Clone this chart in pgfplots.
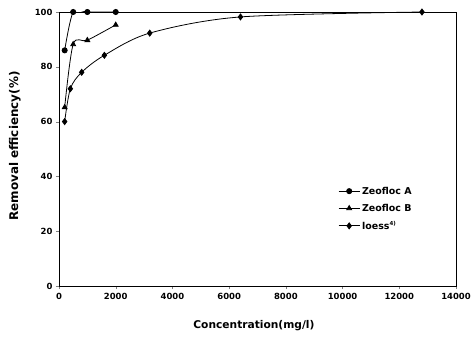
\documentclass[border=0pt]{standalone}
\usepackage{fontspec}
\setmainfont{DejaVu Sans}
\usepackage{pgfplots}
\pgfplotsset{compat=1.18}
\begin{document}
\begin{tikzpicture}[x=1bp,y=1bp]
\useasboundingbox (-59,-50) rectangle (412,286);
\begin{axis}[
  at={(0,0)}, anchor=south west,
  scale only axis, width=397bp, height=274bp,
  xmin=0, xmax=14000, ymin=0, ymax=100,
  xtick={0,2000,4000,6000,8000,10000,12000,14000},
  ytick={0,20,40,60,80,100},
  scaled x ticks=false,
  xticklabel style={/pgf/number format/1000 sep={}},
  /pgf/number format/assume math mode=true,
  tick label style={font=\fontsize{8.5}{9}\selectfont\bfseries},
  xticklabel style={yshift=-1bp},
  tick align=outside, tick pos=left,
  major tick length=3bp,
  axis line style={line width=0.9pt},
  xlabel={Concentration(mg/l)}, ylabel={Removal efficiency(\%)},
  xlabel style={font=\fontsize{10.7}{11}\selectfont\bfseries, at={(axis description cs:0.491,-0.146)}, anchor=center},
  ylabel style={font=\fontsize{12}{12}\selectfont\bfseries, at={(axis description cs:-0.111,0.511)}, anchor=center, rotate=0},
  legend style={draw=none, fill=none, at={(0.703,0.37)}, anchor=north west,
    font=\fontsize{9.5}{10}\selectfont\bfseries, row sep=4.5bp, inner sep=0pt},
  legend cell align=left,
  legend image code/.code={\draw[mark repeat=2,mark phase=2] plot coordinates {(0bp,0bp) (10.5bp,0bp) (21bp,0bp)};},
  every axis plot/.append style={black, line width=0.8pt},
]
\addplot[smooth, mark=*, mark size=2.6bp] coordinates {(200,86) (500,100) (1000,100) (2000,100)};
\addlegendentry{Zeofloc A}
\addplot[smooth, mark=triangle*, mark size=2.8bp] coordinates {(200,65.2) (500,88.2) (1000,89.7) (2000,95.3)};
\addlegendentry{Zeofloc B}
\addplot[smooth, mark=diamond*, mark size=3bp] coordinates {(200,60) (400,72) (800,78) (1600,84.2) (3200,92.3) (6400,98.2) (12800,100)};
\addlegendentry{loess\textsuperscript{\fontsize{5.5}{6}\selectfont 4)}}
\end{axis}
\end{tikzpicture}
\end{document}
